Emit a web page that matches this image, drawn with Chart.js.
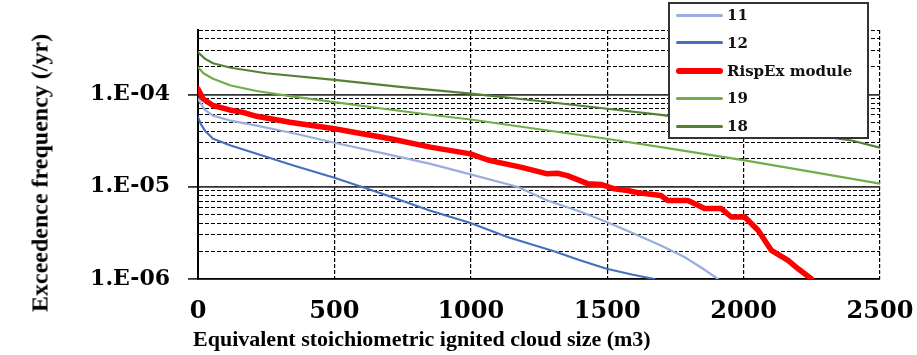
<!DOCTYPE html>
<html><head><meta charset="utf-8">
<script src="https://cdn.jsdelivr.net/npm/chart.js@4.4.1/dist/chart.umd.min.js"></script>
<style>
html,body{margin:0;padding:0;background:#fff;}
#wrap{position:relative;width:917px;height:355px;overflow:hidden;background:#fff;}
canvas{position:absolute;left:0;top:0;}
.ytitle{position:absolute;left:40px;top:173px;transform:translate(-50%,-50%) rotate(-90deg);font:bold 24px "Liberation Serif",serif;white-space:nowrap;color:#000;}
.xtitle{position:absolute;left:193px;top:328px;font:bold 22px "Liberation Serif",serif;line-height:22px;white-space:nowrap;color:#000;}
#legend{position:absolute;left:668px;top:2px;width:201px;height:137px;box-sizing:border-box;border:2px solid #333;background:#fff;}
.row{position:absolute;left:6px;height:28px;display:flex;align-items:center;}
.sw{width:47px;margin-right:4px;}
.lt{font:bold 15px "DejaVu Serif",serif;color:#111;white-space:nowrap;}
</style></head>
<body><div id="wrap"><canvas id="c" width="917" height="355"></canvas>
<div class="ytitle">Exceedence frequency (/yr)</div>
<div class="xtitle">Equivalent stoichiometric ignited cloud size (m3)</div>
<div id="legend"></div></div>
<script>
// ---- data ----
const xTickLabels = ['0', '500', '1000', '1500', '2000', '2500'];
const xTickValues = [0, 500, 1000, 1500, 2000, 2500];

const seriesNames = ['11', '12', 'RispEx module', '19', '18'];
const seriesColors = ['#98AEDC', '#4670BC', '#FF0000', '#72AE48', '#548235'];
const seriesWidths = [2.2, 2.2, 5.5, 2.2, 2.2];

const s11X = [0, 10, 25, 55, 120, 215, 350, 500, 680, 852, 999, 1170, 1281, 1400, 1498, 1599, 1697, 1783, 1850, 1906];
const s11Y = [9.0e-5, 8.0e-5, 6.8e-5, 5.9e-5, 5.2e-5, 4.6e-5, 3.8e-5, 3.0e-5, 2.3e-5, 1.77e-5, 1.36e-5, 1.0e-5, 7.1e-6, 5.4e-6, 4.14e-6, 3.1e-6, 2.31e-6, 1.73e-6, 1.3e-6, 1.0e-6];

const s12X = [0, 10, 25, 55, 120, 215, 350, 500, 670, 852, 999, 1134, 1305, 1400, 1498, 1590, 1673];
const s12Y = [5.68e-5, 4.8e-5, 4.07e-5, 3.31e-5, 2.8e-5, 2.28e-5, 1.7e-5, 1.25e-5, 8.5e-6, 5.5e-6, 4.04e-6, 2.85e-6, 2.0e-6, 1.6e-6, 1.29e-6, 1.12e-6, 1.0e-6];

const rispX = [0, 18, 55, 116, 165, 215, 337, 500, 705, 852, 999, 1060, 1097, 1183, 1281, 1318, 1354, 1428, 1477, 1526, 1575, 1612, 1660, 1697, 1722, 1796, 1857, 1918, 1955, 2004, 2053, 2102, 2163, 2200, 2249];
const rispY = [1.15e-4, 9.0e-5, 7.6e-5, 6.8e-5, 6.4e-5, 5.8e-5, 5.0e-5, 4.25e-5, 3.31e-5, 2.69e-5, 2.27e-5, 1.96e-5, 1.85e-5, 1.63e-5, 1.38e-5, 1.40e-5, 1.32e-5, 1.08e-5, 1.06e-5, 9.5e-6, 9.1e-6, 8.6e-6, 8.3e-6, 8.05e-6, 7.1e-6, 7.1e-6, 5.8e-6, 5.8e-6, 4.7e-6, 4.7e-6, 3.37e-6, 2.04e-6, 1.59e-6, 1.29e-6, 1.0e-6];

const s19X = [0, 20, 55, 120, 215, 350, 500, 680, 852, 999, 1250, 1498, 1697, 2004, 2250, 2500];
const s19Y = [1.98e-4, 1.7e-4, 1.48e-4, 1.25e-4, 1.09e-4, 9.5e-5, 8.26e-5, 7.0e-5, 6.03e-5, 5.36e-5, 4.2e-5, 3.31e-5, 2.69e-5, 1.93e-5, 1.45e-5, 1.08e-5];

const s18X = [0, 25, 55, 120, 250, 500, 750, 1000, 1250, 1500, 1697, 2000, 2250, 2396, 2500];
const s18Y = [2.87e-4, 2.45e-4, 2.18e-4, 1.95e-4, 1.7e-4, 1.44e-4, 1.2e-4, 1.02e-4, 8.5e-5, 7.0e-5, 6.0e-5, 4.55e-5, 3.65e-5, 3.17e-5, 2.65e-5];

const seriesX = [s11X, s12X, rispX, s19X, s18X];
const seriesY = [s11Y, s12Y, rispY, s19Y, s18Y];

// ---- helpers ----
function mantissa(v) { const e = Math.floor(Math.log10(v) + 1e-9); return v / Math.pow(10, e); }
function isMaj(c) { return c && c.tick && Math.abs(mantissa(c.tick.value) - 1) < 1e-6; }

const datasets = seriesNames.map((name, i) => ({
  label: name,
  data: seriesX[i].map((x, j) => ({ x: x, y: seriesY[i][j] })),
  borderColor: seriesColors[i],
  backgroundColor: seriesColors[i],
  borderWidth: seriesWidths[i],
  pointRadius: 0,
  tension: 0,
  fill: false,
  borderJoinStyle: 'round',
  borderCapStyle: 'round',
  order: i === 2 ? 0 : 1
}));

new Chart(document.getElementById('c'), {
  type: 'line',
  data: { datasets: datasets },
  options: {
    responsive: false,
    animation: false,
    events: [],
    layout: { padding: { top: 30, right: 37, left: 0, bottom: 0 } },
    plugins: { legend: { display: false }, tooltip: { enabled: false }, title: { display: false } },
    scales: {
      x: {
        type: 'linear', min: 0, max: 2500,
        afterBuildTicks: s => { s.ticks = xTickValues.map(v => ({ value: v })); },
        afterFit: s => { s.height = 76; s.paddingLeft = 0; s.paddingRight = 0; },
        ticks: {
          autoSkip: false, maxRotation: 0, padding: 18, color: '#000',
          font: { family: 'DejaVu Serif', weight: 'bold', size: 24 },
          callback: (v, i) => xTickLabels[i]
        },
        grid: { color: '#000', lineWidth: 1.2, drawTicks: false },
        border: { display: true, color: '#000', width: 1.6, dash: c => (c && c.tick) ? [4, 2] : [] }
      },
      y: {
        type: 'logarithmic', min: 1e-6, max: 5e-4,
        afterBuildTicks: s => {
          s.ticks = s.ticks.filter(t => { const m = mantissa(t.value); return Math.abs(m - Math.round(m)) < 1e-6; });
        },
        afterFit: s => { s.width = 198; s.paddingTop = 0; s.paddingBottom = 0; },
        ticks: {
          autoSkip: false, padding: 18, color: '#000',
          font: { family: 'DejaVu Serif', weight: 'bold', size: 22 },
          callback: v => { const e = Math.round(Math.log10(v)); return Math.abs(v / Math.pow(10, e) - 1) < 1e-6 ? '1.E-' + String(-e).padStart(2, '0') : ''; }
        },
        grid: {
          color: c => isMaj(c) ? '#333' : '#000',
          lineWidth: c => isMaj(c) ? 1.8 : 1,
          tickLength: 10,
          tickColor: c => isMaj(c) ? '#333' : 'rgba(0,0,0,0)',
          tickWidth: 1.8
        },
        border: { display: true, color: '#000', width: 2, dash: c => (c && c.tick && !isMaj(c)) ? [4, 2] : [] }
      }
    }
  }
});

// ---- legend (HTML, text kept as real text) ----
const leg = document.getElementById('legend');
seriesNames.forEach((name, i) => {
  const row = document.createElement('div');
  row.className = 'row';
  row.style.top = (-3 + i * 27.75) + 'px';
  const sw = document.createElement('div');
  sw.className = 'sw';
  sw.style.height = (i === 2 ? 6 : 3) + 'px';
  sw.style.borderRadius = '3px';
  sw.style.background = seriesColors[i];
  const t = document.createElement('span');
  t.className = 'lt';
  t.textContent = name;
  row.appendChild(sw); row.appendChild(t);
  leg.appendChild(row);
});
</script>
</body></html>
